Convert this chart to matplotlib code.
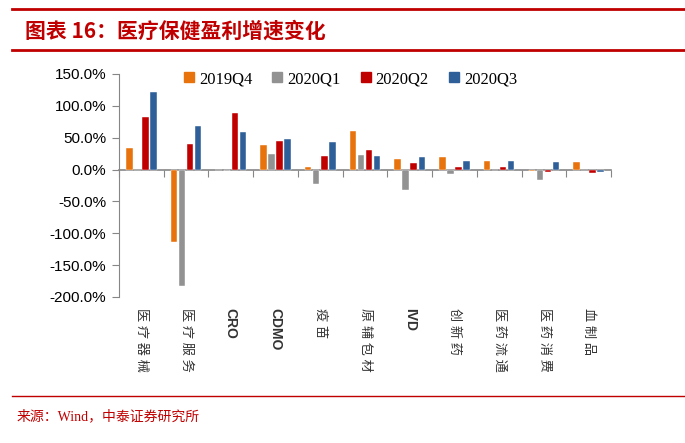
import numpy as np
import matplotlib
matplotlib.use('Agg')
import matplotlib.pyplot as plt
import matplotlib.transforms as mtransforms
from matplotlib.lines import Line2D

plt.rcParams['font.family'] = ['Liberation Sans', 'Noto Sans CJK SC']

# data (percent)
categories = ['医疗器械', '医疗服务', 'CRO', 'CDMO', '疫苗', '原辅包材', 'IVD',
              '创新药', '医药流通', '医药消费', '血制品']
series_names = ['2019Q4', '2020Q1', '2020Q2', '2020Q3']
q4_2019 = [34, -114, 0, 38, 4, 61, 16, 19.5, 13, -3, 12]
q1_2020 = [0, -182, -1.5, 25, -22, 23, -32, -7, 0, -16, 0]
q2_2020 = [83, 40, 89, 45, 22, 31, 10.5, 3.5, 4, -4.5, -5.5]
q3_2020 = [121, 69, 58.5, 47.5, 44, 22, 20, 13.5, 13.5, 11.5, -4.5]
yticks = [150, 100, 50, 0, -50, -100, -150, -200]

colors = ['#E8720C', '#929292', '#C00000', '#2F5F98']
red = '#C00000'
axis_gray = '#868686'

fig = plt.figure(figsize=(6.85, 4.43), dpi=100)
ax = fig.add_axes([0.1737, 0.3296, 0.7182, 0.5034])

x = np.arange(len(categories))
step = 0.18
width = 0.145
all_series = [q4_2019, q1_2020, q2_2020, q3_2020]
for i, vals in enumerate(all_series):
    ax.bar(x + (i - 1.5) * step, vals, width=width, color=colors[i],
           edgecolor='white', linewidth=0.3, zorder=3)

ax.set_xlim(-0.5, len(categories) - 0.5)
ax.set_ylim(-200, 150)
ax.set_yticks(yticks)
ax.set_yticklabels([f'{v:.1f}%' for v in yticks], fontsize=11)

for s in ['top', 'right']:
    ax.spines[s].set_visible(False)
ax.spines['left'].set_color(axis_gray)
ax.spines['bottom'].set_color(axis_gray)
ax.spines['bottom'].set_position(('data', 0))
ax.spines['bottom'].set_linewidth(1.2)
ax.set_xticks(np.arange(len(categories) + 1) - 0.5)
ax.set_xticklabels([])
ax.tick_params(axis='x', direction='out', length=5, color=axis_gray)
ax.tick_params(axis='y', direction='out', length=5, color=axis_gray, pad=4)

# category labels, rotated and placed under the plot
trans = mtransforms.blended_transform_factory(ax.transData, fig.transFigure)
for xi, cat in zip(x, categories):
    if cat.isascii():
        ax.text(xi, 1 - 308 / 443, cat, transform=trans, rotation=-90,
                ha='center', va='top', fontsize=10, fontweight='bold', color='#333333')
    else:
        ax.text(xi, 1 - 308 / 443, ' '.join(cat), transform=trans, rotation=-90,
                ha='center', va='top', fontsize=9.5, color='#333333')

handles = [Line2D([], [], marker='s', linestyle='none', markersize=7,
                  markerfacecolor=c, markeredgecolor=c) for c in colors]
leg = ax.legend(handles, series_names, ncol=4, loc='upper left',
                bbox_to_anchor=(0.095, 1.08), frameon=False,
                prop={'family': 'Liberation Serif', 'size': 12},
                handletextpad=0.1, columnspacing=1.0, handlelength=1.0)

# header and footer
fig.add_artist(Line2D([12 / 685, 1], [1 - 9 / 443] * 2, color=red, linewidth=2))
fig.add_artist(Line2D([12 / 685, 1], [1 - 50 / 443] * 2, color=red, linewidth=2))
fig.text(25 / 685, 1 - 31 / 443, '图表 16：医疗保健盈利增速变化', color=red,
         fontsize=15, fontweight='bold', va='center', ha='left',
         family=['Noto Sans CJK SC'])
fig.add_artist(Line2D([12 / 685, 1], [1 - 396 / 443] * 2, color=red, linewidth=1))
fig.text(17 / 685, 1 - 416 / 443, '来源：Wind，中泰证券研究所', color=red,
         fontsize=10, va='center', ha='left',
         family=['Liberation Serif', 'Noto Sans CJK SC'])

plt.savefig('out.png', dpi=100)
